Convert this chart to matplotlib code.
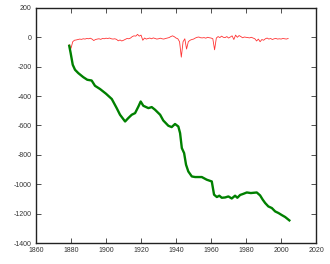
import matplotlib
matplotlib.use("Agg")
import matplotlib.pyplot as plt

plt.rcParams['font.family'] = ['Liberation Sans', 'DejaVu Sans']
plt.rcParams['axes.unicode_minus'] = False

# green curve
years_g = [1879.0, 1879.8, 1881.0, 1882.3, 1884.2, 1887.0, 1889.3, 1891.8, 1893.7,
           1896.6, 1900.0, 1903.3, 1906.1, 1908.0, 1910.9, 1912.7, 1914.7, 1916.6,
           1918.5, 1919.8, 1921.3, 1924.2, 1926.1, 1928.0, 1930.9, 1932.7, 1935.6,
           1937.5, 1939.4, 1941.3, 1942.3, 1943.3, 1944.6, 1945.7, 1947.0, 1949.0,
           1950.9, 1954.7, 1957.5, 1960.4, 1961.7, 1963.3, 1964.7, 1966.1, 1968.0,
           1969.9, 1971.8, 1973.7, 1975.0, 1976.6, 1978.5, 1980.4, 1982.7, 1986.1,
           1988.0, 1989.5, 1990.9, 1992.7, 1994.7, 1996.6, 1998.5, 2000.4, 2002.3,
           2004.7]
vals_g = [-58, -107, -187, -221, -244, -271, -289, -294, -330,
          -352, -384, -420, -482, -527, -573, -550, -527, -516,
          -471, -437, -466, -482, -475, -493, -527, -566, -602,
          -611, -590, -607, -652, -754, -788, -867, -913, -947,
          -951, -951, -969, -981, -1071, -1087, -1078, -1092, -1090,
          -1083, -1097, -1078, -1092, -1073, -1065, -1056, -1060, -1056,
          -1076, -1105, -1128, -1151, -1162, -1185, -1196, -1210, -1223,
          -1246]

# red curve, one value per year 1879..2004
years_r = list(range(1879, 2005))
vals_r = ([-50] +
          [-75, -30, -20, -18, -15, -12, -14, -10, -12, -8] +      # 1880s
          [-10, -6, -12, -22, -15, -12, -10, -14, -8, -10] +       # 1890s
          [-6, -8, -5, -10, -12, -10, -14, -24, -18, -25] +        # 1900s
          [-20, -14, -8, -10, -5, 5, 10, 8, 20, 8] +               # 1910s
          [15, -20, -5, -12, -8, -5, -10, -4, -8, -12] +           # 1920s
          [-10, -6, -10, -12, -8, -5, -2, 5, 10, 4] +              # 1930s
          [-5, -10, -30, -135, -30, -10, -80, -30, -20, -15] +     # 1940s
          [-12, -5, 0, 2, -3, -4, -2, -6, 0, -3] +                 # 1950s
          [-5, -10, -85, -5, 5, -2, 8, 0, -2, 5] +                 # 1960s
          [-5, 2, 10, -15, 15, 0, 12, 5, -3, 2] +                  # 1970s
          [0, -2, -4, 0, -5, -10, -25, -12, -30, -15] +            # 1980s
          [-20, -10, -5, -12, -8, -15, -10, -8, -12, -10] +        # 1990s
          [-12, -8, -10, -12, -8])                                 # 2000s

xticks = [1860, 1880, 1900, 1920, 1940, 1960, 1980, 2000, 2020]
yticks = [200, 0, -200, -400, -600, -800, -1000, -1200, -1400]

fig = plt.figure(figsize=(3.3, 2.64), dpi=100)
ax = fig.add_axes([0.109, 0.0795, 0.849, 0.8905])

ax.plot(years_r, vals_r, color='#ff0000', lw=0.6, alpha=0.8)
ax.plot(years_g, vals_g, color='#008000', lw=1.7)

ax.set_xlim(1860, 2020)
ax.set_ylim(-1400, 200)
ax.set_xticks(xticks)
ax.set_yticks(yticks)
ax.tick_params(direction='in', top=True, right=True, length=3.5, width=0.6,
               labelsize=5, colors='#333333', pad=3)
for s in ax.spines.values():
    s.set_linewidth(1.0)
    s.set_color('#222222')

fig.savefig('out.png', dpi=100)
